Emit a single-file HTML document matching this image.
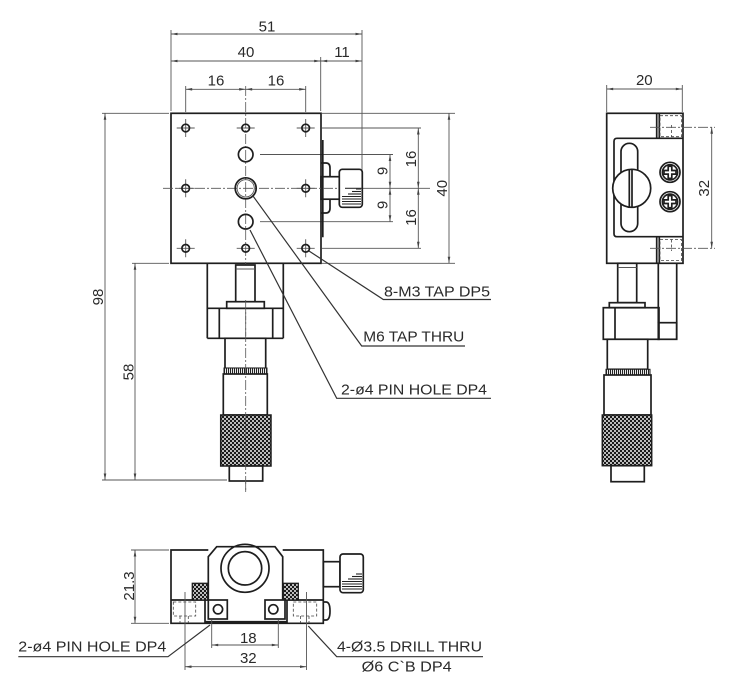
<!DOCTYPE html>
<html><head><meta charset="utf-8"><style>
html,body{margin:0;padding:0;background:#fff;}
svg{display:block;}
.o{stroke:#1e1e1e;stroke-width:1.7;fill:none;}
.of{stroke:#1e1e1e;stroke-width:1.7;fill:#fff;}
.t{stroke:#555;stroke-width:0.9;fill:none;}
.l{stroke:#333;stroke-width:1.2;fill:none;}
.c{stroke:#555;stroke-width:0.8;fill:none;stroke-dasharray:10 2 2 2;}
.h{stroke:#444;stroke-width:0.8;fill:none;stroke-dasharray:3 2;}
.d{stroke:#555;stroke-width:0.9;fill:none;marker-start:url(#ar);marker-end:url(#ar);}
text{font-family:"Liberation Sans",sans-serif;fill:#2a2a2a;font-size:15px;}
.n{text-anchor:middle;}
</style></head><body>
<svg width="735" height="698" viewBox="0 0 735 698" xmlns="http://www.w3.org/2000/svg">
<defs>
<marker id="ar" viewBox="0 0 10 4" refX="10" refY="2" markerWidth="7" markerHeight="2.6" markerUnits="userSpaceOnUse" orient="auto-start-reverse"><path d="M0,0 L10,2 L0,4 z" fill="#444"/></marker>
<pattern id="kn" width="4" height="4" patternUnits="userSpaceOnUse"><rect width="4" height="4" fill="#1a1a1a"/><circle cx="1" cy="1" r="0.95" fill="#fff"/><circle cx="3" cy="3" r="0.95" fill="#fff"/></pattern>
<pattern id="tk" width="2" height="6" patternUnits="userSpaceOnUse"><rect width="2" height="6" fill="#fff"/><rect width="1.1" height="6" fill="#222"/></pattern>
</defs>

<!-- ============ TOP VIEW ============ -->
<line class="t" x1="171" y1="30" x2="171" y2="111"/>
<line class="t" x1="320.7" y1="57" x2="320.7" y2="111"/>
<line class="t" x1="362" y1="30" x2="362" y2="188"/>
<line class="t" x1="185.7" y1="86" x2="185.7" y2="112"/>
<line class="t" x1="305.7" y1="86" x2="305.7" y2="112"/>
<line class="d" x1="171" y1="34" x2="362" y2="34"/>
<line class="d" x1="171" y1="61" x2="320.7" y2="61"/>
<line class="d" x1="320.7" y1="61" x2="362" y2="61"/>
<line class="d" x1="185.7" y1="89.3" x2="245.7" y2="89.3"/>
<line class="d" x1="245.7" y1="89.3" x2="305.7" y2="89.3"/>
<text class="n" x="267" y="31.5">51</text>
<text class="n" x="246" y="57">40</text>
<text class="n" x="342" y="57">11</text>
<text class="n" x="216" y="85.5">16</text>
<text class="n" x="276" y="85.5">16</text>

<line class="t" x1="322" y1="113.3" x2="455" y2="113.3"/>
<line class="t" x1="322" y1="128" x2="421" y2="128"/>
<line class="t" x1="260" y1="154.5" x2="393" y2="154.5"/>
<line class="t" x1="340" y1="188.3" x2="430" y2="188.3"/>
<line class="t" x1="260" y1="221.7" x2="393" y2="221.7"/>
<line class="t" x1="322" y1="248.3" x2="421" y2="248.3"/>
<line class="t" x1="322" y1="263.3" x2="455" y2="263.3"/>
<line class="d" x1="390" y1="154.5" x2="390" y2="188.3"/>
<line class="d" x1="390" y1="188.3" x2="390" y2="221.7"/>
<line class="d" x1="418.3" y1="128" x2="418.3" y2="188.3"/>
<line class="d" x1="418.3" y1="188.3" x2="418.3" y2="248.3"/>
<line class="d" x1="449" y1="113.3" x2="449" y2="263.3"/>
<text class="n" transform="translate(387.5,171) rotate(-90)">9</text>
<text class="n" transform="translate(387.5,205) rotate(-90)">9</text>
<text class="n" transform="translate(416,159) rotate(-90)">16</text>
<text class="n" transform="translate(416,217.5) rotate(-90)">16</text>
<text class="n" transform="translate(447,188.3) rotate(-90)">40</text>

<line class="t" x1="102" y1="113.3" x2="169" y2="113.3"/>
<line class="t" x1="102" y1="480" x2="227" y2="480"/>
<line class="t" x1="132" y1="263.3" x2="169" y2="263.3"/>
<line class="d" x1="105" y1="113.3" x2="105" y2="480"/>
<line class="d" x1="135" y1="263.3" x2="135" y2="480"/>
<text class="n" transform="translate(103,297) rotate(-90)">98</text>
<text class="n" transform="translate(133.5,372) rotate(-90)">58</text>

<rect class="o" x="171" y="113.3" width="150" height="150"/>
<line class="o" x1="322.8" y1="140" x2="322.8" y2="237.3"/>
<path class="o" d="M321,163 H326 Q330,163 330,168 V177 M330,200 V208 Q330,213 326,213 H321"/>
<rect class="o" x="321" y="176.7" width="19" height="22.5"/>
<rect class="of" x="339.3" y="169.3" width="23" height="38" rx="3"/>
<g stroke="#222" stroke-width="1.1">
<line x1="356" y1="189" x2="361" y2="189"/>
<line x1="352" y1="191.5" x2="361" y2="191.5"/>
<line x1="348" y1="194" x2="361" y2="194"/>
<line x1="342" y1="196.5" x2="361" y2="196.5"/>
<line x1="342" y1="199" x2="361" y2="199"/>
<line x1="342" y1="201.5" x2="361" y2="201.5"/>
<line x1="342" y1="204" x2="361" y2="204"/>
</g>
<line class="l" x1="345" y1="188.3" x2="362" y2="188.3"/>

<line class="c" x1="163" y1="188.3" x2="338" y2="188.3"/>
<line class="c" x1="245.7" y1="86" x2="245.7" y2="492"/>

<g class="t">
<path d="M176.7,128 h18 M185.7,119 v18 M236.7,128 h18 M296.7,128 h18 M305.7,119 v18
M176.7,188.3 h18 M185.7,179.3 v18 M296.7,188.3 h18 M305.7,179.3 v18
M176.7,248.3 h18 M185.7,239.3 v18 M236.7,248.3 h18 M296.7,248.3 h18 M305.7,239.3 v18"/>
</g>
<g class="o" stroke-width="1.5">
<circle cx="185.7" cy="128" r="3.8"/><circle cx="245.7" cy="128" r="3.8"/><circle cx="305.7" cy="128" r="3.8"/>
<circle cx="185.7" cy="188.3" r="3.8"/><circle cx="305.7" cy="188.3" r="3.8"/>
<circle cx="185.7" cy="248.3" r="3.8"/><circle cx="245.7" cy="248.3" r="3.8"/><circle cx="305.7" cy="248.3" r="3.8"/>
</g>
<circle class="o" cx="245.7" cy="154.5" r="7.3"/>
<circle class="o" cx="245.7" cy="221.7" r="7.3"/>
<circle class="o" cx="245.7" cy="188.3" r="10.5" stroke-width="1.9"/>
<circle class="t" cx="245.7" cy="188.3" r="8.6"/>

<line class="o" x1="207.3" y1="263.3" x2="207.3" y2="338.3"/>
<line class="o" x1="283.3" y1="263.3" x2="283.3" y2="338.3"/>
<line class="o" x1="207.3" y1="308.3" x2="283.3" y2="308.3"/>
<line class="o" x1="207.3" y1="338.3" x2="283.3" y2="338.3"/>
<line class="o" x1="219.3" y1="308.3" x2="219.3" y2="338.3"/>
<line class="o" x1="272.7" y1="308.3" x2="272.7" y2="338.3"/>
<rect class="of" x="235.7" y="265" width="19.3" height="37"/>
<line class="t" x1="235.7" y1="269" x2="255" y2="269"/>
<rect class="of" x="226.7" y="301.7" width="37.6" height="6.6"/>
<rect class="of" x="225" y="338.3" width="40.7" height="30"/>
<rect x="224" y="368" width="43" height="6" fill="url(#tk)" stroke="#1e1e1e" stroke-width="1"/>
<rect class="of" x="223.3" y="374" width="44" height="41"/>
<rect x="220.7" y="415" width="50.3" height="51" fill="url(#kn)" stroke="#1e1e1e" stroke-width="1.5"/>
<rect class="of" x="229.3" y="466" width="33.4" height="15"/>
<line class="c" x1="245.7" y1="300" x2="245.7" y2="492"/>

<polyline class="l" points="309,251 383.3,299.5 491,299.5"/>
<polyline class="l" points="253,196 361.7,346 465,346"/>
<polyline class="l" points="250,230 336.7,398.3 491,398.3"/>
<text x="384" y="296.5" textLength="106" lengthAdjust="spacingAndGlyphs">8-M3 TAP DP5</text>
<text x="363.3" y="341.7" textLength="101" lengthAdjust="spacingAndGlyphs">M6 TAP THRU</text>
<text x="341" y="394.3" textLength="146" lengthAdjust="spacingAndGlyphs">2-ø4 PIN HOLE DP4</text>

<!-- ============ SIDE VIEW ============ -->
<line class="t" x1="606.7" y1="85" x2="606.7" y2="112"/>
<line class="t" x1="682.3" y1="85" x2="682.3" y2="112"/>
<line class="d" x1="606.7" y1="89" x2="682.3" y2="89"/>
<text class="n" x="644.3" y="85">20</text>

<rect class="o" x="606.7" y="113.3" width="76.3" height="150"/>
<line class="o" x1="656.7" y1="113.3" x2="656.7" y2="138.3"/>
<line class="o" x1="659.3" y1="113.3" x2="659.3" y2="138.3"/>
<line class="o" x1="656.7" y1="236.7" x2="656.7" y2="263.3"/>
<line class="o" x1="659.3" y1="236.7" x2="659.3" y2="263.3"/>
<path class="o" d="M683,138.3 H617 Q614,138.3 614,141.3 V233.7 Q614,236.7 617,236.7 H683"/>
<rect class="h" x="660" y="115.7" width="21.5" height="21"/>
<line class="h" x1="671.5" y1="125" x2="671.5" y2="136.7"/>
<rect class="h" x="660" y="239.5" width="21.5" height="21"/>
<line class="h" x1="671.5" y1="239.5" x2="671.5" y2="251"/>
<line class="c" x1="650" y1="127.3" x2="715" y2="127.3"/>
<line class="c" x1="650" y1="248.3" x2="715" y2="248.3"/>
<line class="d" x1="711.7" y1="127.3" x2="711.7" y2="248.3"/>
<text class="n" transform="translate(709,188.3) rotate(-90)">32</text>

<rect class="o" x="621" y="143.3" width="16.7" height="88.4" rx="8.3"/>
<circle class="of" cx="631.7" cy="188.3" r="19"/>
<line class="o" x1="629.3" y1="170" x2="629.3" y2="207" stroke-width="1.5"/>
<line class="o" x1="632" y1="170" x2="632" y2="207" stroke-width="1.5"/>
<g>
<circle class="o" cx="670" cy="172.3" r="10" stroke-width="1.3"/>
<circle class="o" cx="670" cy="172.3" r="7.6" stroke-width="1"/>
<path class="o" stroke-width="1.1" d="M668.2,166.3 h3.6 v4.2 h4.2 v3.6 h-4.2 v4.2 h-3.6 v-4.2 h-4.2 v-3.6 h4.2 z"/>
<circle class="o" cx="670" cy="201.7" r="10" stroke-width="1.3"/>
<circle class="o" cx="670" cy="201.7" r="7.6" stroke-width="1"/>
<path class="o" stroke-width="1.1" d="M668.2,195.7 h3.6 v4.2 h4.2 v3.6 h-4.2 v4.2 h-3.6 v-4.2 h-4.2 v-3.6 h4.2 z"/>
</g>

<rect class="of" x="617.7" y="263.3" width="19" height="39.4"/>
<line class="t" x1="617.7" y1="267.5" x2="636.7" y2="267.5"/>
<rect class="of" x="609.3" y="302.7" width="35.7" height="5"/>
<line class="o" x1="658.3" y1="263.3" x2="658.3" y2="322.7"/>
<line class="o" x1="676.7" y1="263.3" x2="676.7" y2="339.3"/>
<rect class="o" x="658.3" y="322.7" width="18.4" height="16.6"/>
<rect class="o" x="603.3" y="307.7" width="55.7" height="31.6"/>
<line class="o" x1="615" y1="307.7" x2="615" y2="339.3"/>
<rect class="of" x="607.3" y="339.3" width="40.4" height="30"/>
<rect x="606" y="369.3" width="44" height="5.7" fill="url(#tk)" stroke="#1e1e1e" stroke-width="1"/>
<rect class="of" x="604" y="375" width="47" height="40"/>
<rect x="602.3" y="415" width="49.4" height="50.7" fill="url(#kn)" stroke="#1e1e1e" stroke-width="1.5"/>
<rect class="of" x="611" y="465.7" width="33.3" height="16"/>

<!-- ============ BOTTOM VIEW ============ -->
<line class="t" x1="131" y1="550" x2="169" y2="550"/>
<line class="t" x1="131" y1="623.3" x2="169" y2="623.3"/>
<line class="d" x1="135" y1="550" x2="135" y2="623.3"/>
<text class="n" transform="translate(134,586) rotate(-90)">21.3</text>

<path class="o" d="M208.3,550 H171 V623.3 H323.3 V550 H282.7"/>
<path class="o" d="M208.3,600 V556.7 L216.7,546.7 H275 L282.7,556.7 V600"/>
<line class="o" x1="171" y1="600" x2="208.3" y2="600"/>
<line class="o" x1="282.7" y1="600" x2="323.3" y2="600"/>
<circle class="o" cx="245" cy="568.3" r="24"/>
<circle class="o" cx="245" cy="568.3" r="16.7"/>
<rect x="192.3" y="583.3" width="15.4" height="16.7" fill="url(#kn)" stroke="#1e1e1e" stroke-width="1.3"/>
<rect x="283.3" y="583.3" width="15" height="16.7" fill="url(#kn)" stroke="#1e1e1e" stroke-width="1.3"/>
<path class="o" stroke-width="1.3" d="M205,600 V621.7 H287 V600"/>
<rect class="of" x="208.3" y="600" width="19" height="19"/>
<rect class="of" x="265" y="600" width="20" height="19"/>
<circle class="o" cx="218" cy="609.3" r="4.6" stroke-width="1.3"/>
<circle class="o" cx="273.3" cy="609.3" r="4.6" stroke-width="1.3"/>
<rect class="h" x="173.3" y="602" width="22.4" height="14"/>
<line class="h" x1="180" y1="616" x2="180" y2="623"/>
<line class="h" x1="188.3" y1="616" x2="188.3" y2="623"/>
<rect class="h" x="293.3" y="602" width="23.4" height="14"/>
<line class="h" x1="300.5" y1="616" x2="300.5" y2="623"/>
<line class="h" x1="309" y1="616" x2="309" y2="623"/>
<path class="o" d="M323.3,602 H326 Q330,602 330,611 Q330,620 326,620 H323.3"/>
<rect class="o" x="323.3" y="561.7" width="16.7" height="25"/>
<rect class="of" x="340" y="554" width="23.3" height="38.7" rx="3"/>
<g stroke="#222" stroke-width="1.1">
<line x1="356" y1="574" x2="362" y2="574"/>
<line x1="352" y1="576.5" x2="362" y2="576.5"/>
<line x1="348" y1="579" x2="362" y2="579"/>
<line x1="342" y1="581.5" x2="362" y2="581.5"/>
<line x1="342" y1="584" x2="362" y2="584"/>
<line x1="342" y1="586.5" x2="362" y2="586.5"/>
<line x1="342" y1="589" x2="362" y2="589"/>
</g>

<line class="t" x1="211.7" y1="620" x2="211.7" y2="648"/>
<line class="t" x1="278.3" y1="620" x2="278.3" y2="648"/>
<line class="t" x1="185" y1="592" x2="185" y2="670"/>
<line class="t" x1="306.5" y1="592" x2="306.5" y2="670"/>
<line class="d" x1="211.7" y1="645" x2="278.3" y2="645"/>
<line class="d" x1="185" y1="666.7" x2="306.5" y2="666.7"/>
<text class="n" x="248.3" y="643">18</text>
<text class="n" x="248.3" y="663">32</text>

<polyline class="l" points="210,625 168,656.7 18.3,656.7"/>
<polyline class="l" points="308.3,626 336.7,656.7 483,656.7"/>
<text x="18.3" y="651.7" textLength="148" lengthAdjust="spacingAndGlyphs">2-ø4 PIN HOLE DP4</text>
<text x="337" y="651.7" textLength="145" lengthAdjust="spacingAndGlyphs">4-Ø3.5 DRILL THRU</text>
<text x="361.7" y="671.7" textLength="90" lengthAdjust="spacingAndGlyphs">Ø6 C`B DP4</text>
</svg>
</body></html>
